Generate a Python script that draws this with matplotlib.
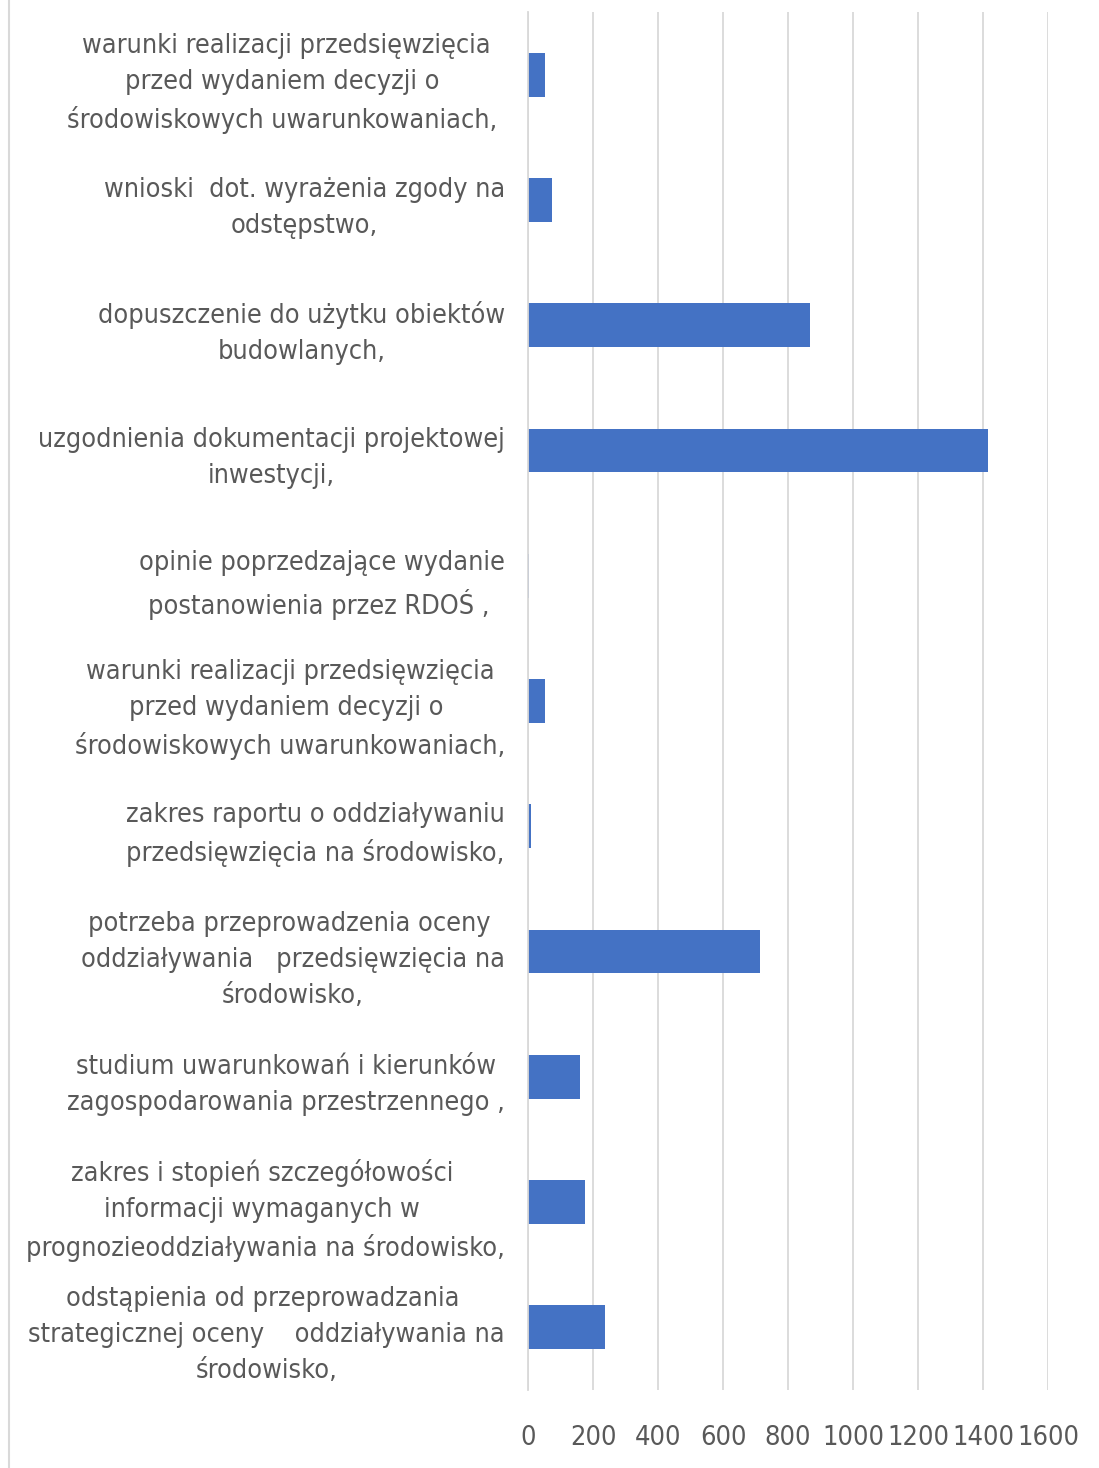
import matplotlib
matplotlib.use('Agg')
import matplotlib.pyplot as plt
from matplotlib import font_manager
from matplotlib.lines import Line2D
import matplotlib.transforms as mtrans

# categories listed top to bottom, as in the picture
categories = [
    'warunki realizacji przedsięwzięcia\nprzed wydaniem decyzji o \nśrodowiskowych uwarunkowaniach, ',
    'wnioski  dot. wyrażenia zgody na\nodstępstwo,',
    'dopuszczenie do użytku obiektów\nbudowlanych,',
    'uzgodnienia dokumentacji projektowej\ninwestycji,',
    'opinie poprzedzające wydanie\npostanowienia przez RDOŚ , ',
    'warunki realizacji przedsięwzięcia\nprzed wydaniem decyzji o \nśrodowiskowych uwarunkowaniach,',
    'zakres raportu o oddziaływaniu\nprzedsięwzięcia na środowisko,',
    'potrzeba przeprowadzenia oceny \noddziaływania   przedsięwzięcia na\nśrodowisko,',
    'studium uwarunkowań i kierunków\nzagospodarowania przestrzennego ,',
    'zakres i stopień szczegółowości \ninformacji wymaganych w \nprognozieoddziaływania na środowisko,',
    'odstąpienia od przeprowadzania \nstrategicznej oceny    oddziaływania na\nśrodowisko,',
]
values = [53, 74, 867, 1414, 3, 53, 10, 714, 161, 176, 238]
x_ticks = [0, 200, 400, 600, 800, 1000, 1200, 1400, 1600]

# narrow font, close to the excel one
font_path = font_manager.findfont(
    font_manager.FontProperties(family='DejaVu Sans', stretch='condensed'))

text_col = '#595959'
grid_col = '#d9d9d9'
bar_col = '#4472c4'

fig = plt.figure(figsize=(10.99, 14.68), dpi=100)
ax = fig.add_axes([528 / 1099, 1 - 1390 / 1468, 520 / 1099, (1390 - 12) / 1468])

pos = list(range(len(categories)))
ax.barh(pos, values, height=0.35, color=bar_col)

ax.set_xlim(0, 1600)
ax.set_ylim(len(categories) - 0.5, -0.5)
ax.set_xticks(x_ticks)
ax.set_xticklabels([str(t) for t in x_ticks])
ax.set_yticks(pos)
ax.set_yticklabels(categories)

# labels sit a bit higher than the bar centre in the original
shift_up = mtrans.ScaledTranslation(0, 5 / 100, fig.dpi_scale_trans)
for lab in ax.get_yticklabels():
    lab.set_fontproperties(font_manager.FontProperties(fname=font_path, size=19.4))
    lab.set_color(text_col)
    lab.set_multialignment('center')
    lab.set_linespacing(1.5)
    lab.set_transform(lab.get_transform() + shift_up)
for lab in ax.get_xticklabels():
    lab.set_fontproperties(font_manager.FontProperties(fname=font_path, size=19.5))
    lab.set_color(text_col)

ax.tick_params(axis='y', length=0, pad=16.5)
ax.tick_params(axis='x', length=0, pad=25)
ax.grid(axis='x', color=grid_col, linewidth=1.3)
ax.set_axisbelow(True)
for s in ['top', 'right', 'bottom']:
    ax.spines[s].set_visible(False)
ax.spines['left'].set_color(grid_col)
ax.spines['left'].set_linewidth(1.3)

# frame line on the left side of the chart
fig.add_artist(Line2D([8.5 / 1099, 8.5 / 1099], [0, 1], color=grid_col, linewidth=1.5))

fig.savefig('out.png', dpi=100)
